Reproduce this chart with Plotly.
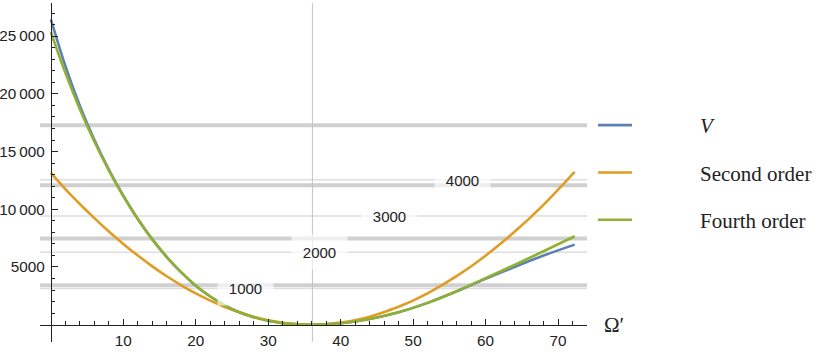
import plotly.graph_objects as go

# ---- data ----
omega = [0, 2, 4, 6, 8, 10, 12, 14, 16, 18, 20, 22, 24, 26, 28, 30, 32, 34, 36,
         38, 40, 44, 48, 52, 56, 60, 64, 68, 72.3]
V = [26450, 22420, 18970, 16020, 13440, 11170, 9160, 7390, 5860, 4530, 3380,
     2440, 1680, 1080, 650, 340, 135, 32, 0, 30, 125, 500, 1080, 1890, 2890,
     3980, 5000, 5990, 6938]
second_order = [13150, 11754, 10459, 9234, 8080, 6998, 5989, 5055, 4196, 3414,
                2709, 2083, 1537, 1072, 689, 389, 174, 44, 0, 44, 176, 695,
                1547, 2719, 4200, 5979, 8044, 10383, 13230]
fourth_order = [25350, 21820, 18670, 15870, 13370, 11140, 9150, 7390, 5860,
                4530, 3380, 2440, 1680, 1080, 650, 340, 135, 32, 0, 30, 125,
                500, 1080, 1890, 2900, 4020, 5180, 6360, 7658]

levels = [3408, 7459, 12082, 17285]            # thick horizontal lines
contour_values = [3142, 6283, 9425, 12566]     # thin labelled lines
contour_labels = ["1000", "2000", "3000", "4000"]
contour_label_x = [26.8, 37.1, 46.7, 56.8]
min_omega = 36.1

x_ticks = [10, 20, 30, 40, 50, 60, 70]
x_minor = [v for v in range(2, 74, 2) if v % 10 != 0]
y_ticks = [5000, 10000, 15000, 20000, 25000]
y_tick_text = ["5000", "10\u2009000", "15\u2009000", "20\u2009000", "25\u2009000"]
y_minor = [v for v in range(1000, 28000, 1000) if v % 5000 != 0]

x_range = [-1.5, 74]
y_range = [-1500, 27870]

colors = {"V": "#5E81B5", "second": "#E19C24", "fourth": "#8FB032"}
pad = "\u2002" * 6

fig = go.Figure()
for name, ys, c in [("<i>V</i>", V, colors["V"]),
                    ("Second order", second_order, colors["second"]),
                    ("Fourth order", fourth_order, colors["fourth"])]:
    fig.add_trace(go.Scatter(x=omega, y=ys, mode="lines", name=pad + name,
                             legendgroup=name,
                             line=dict(color=c, width=2.6, shape="spline", smoothing=1)))

shapes = []
for y in levels:
    shapes.append(dict(type="line", xref="x domain", x0=0, x1=1, yref="y", y0=y, y1=y,
                       line=dict(color="#d0d0d0", width=4), layer="below"))
for y in contour_values:
    shapes.append(dict(type="line", xref="x domain", x0=0, x1=1, yref="y", y0=y, y1=y,
                       line=dict(color="#dedede", width=1.5), layer="below"))
shapes.append(dict(type="line", xref="x", x0=min_omega, x1=min_omega, yref="y domain",
                   y0=0, y1=1, line=dict(color="#c4c4c4", width=1), layer="below"))

annotations = []
for lx, ly, lt in zip(contour_label_x, contour_values, contour_labels):
    annotations.append(dict(x=lx, y=ly, xref="x", yref="y", text=lt, showarrow=False,
                            font=dict(family="Liberation Sans, Arial", size=15, color="#222"),
                            bgcolor="rgba(255,255,255,0.65)", width=53, height=32))
annotations.append(dict(x=1.027, y=0, xref="paper", yref="y", text="\u03a9\u2032",
                        xanchor="left", yanchor="middle", showarrow=False,
                        font=dict(family="Liberation Serif", size=21, color="#222")))

xpos = (0 - x_range[0]) / (x_range[1] - x_range[0])
ypos = (0 - y_range[0]) / (y_range[1] - y_range[0])

fig.update_layout(
    width=830, height=352,
    margin=dict(l=40, r=243, t=3, b=10),
    plot_bgcolor="white", paper_bgcolor="white",
    font=dict(family="Liberation Sans, Arial", size=15.3, color="#222"),
    shapes=shapes, annotations=annotations,
    showlegend=True,
    legend=dict(x=1.011, y=0.50, xanchor="left", yanchor="middle",
                font=dict(family="Liberation Serif", size=21, color="#222"),
                itemwidth=34, tracegroupgap=17, traceorder="grouped",
                bgcolor="rgba(0,0,0,0)"),
    xaxis=dict(range=x_range, anchor="free", position=ypos, showline=True,
               linecolor="#222", linewidth=1, showgrid=False, zeroline=False,
               tickmode="array", tickvals=x_ticks, ticks="inside", ticklen=6,
               tickcolor="#222", automargin=False, ticklabelstandoff=2,
               minor=dict(tickmode="array", tickvals=x_minor, ticks="inside",
                          ticklen=3.5, tickcolor="#222", showgrid=False)),
    yaxis=dict(range=y_range, anchor="free", position=xpos, showline=True,
               linecolor="#222", linewidth=1, showgrid=False, zeroline=False,
               tickmode="array", tickvals=y_ticks, ticktext=y_tick_text,
               ticks="inside", ticklen=6, tickcolor="#222", automargin=False,
               ticklabelstandoff=3,
               minor=dict(tickmode="array", tickvals=y_minor, ticks="inside",
                          ticklen=3.5, tickcolor="#222", showgrid=False)),
)

fig.write_html("out.html", config={"displayModeBar": False},
               post_script="document.body.style.margin='0';document.body.style.padding='0';")
